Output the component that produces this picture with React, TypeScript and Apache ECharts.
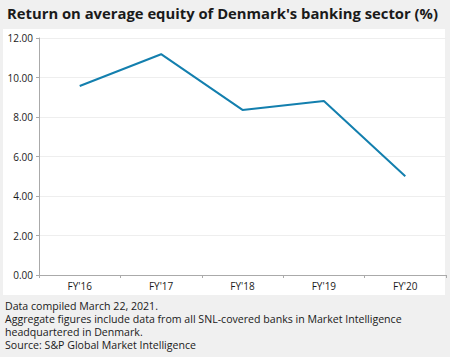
import React, { useEffect, useRef } from "react";
import * as echarts from "echarts";

const categories = ["FY'16", "FY'17", "FY'18", "FY'19", "FY'20"];
const roeValues = [9.57, 11.18, 8.36, 8.81, 5.0];
const yTicks = { min: 0, max: 12, interval: 2 };
const titleText = "Return on average equity of Denmark's banking sector (%)";
const footnotes = [
  "Data compiled March 22, 2021.",
  "Aggregate figures include data from all SNL-covered banks in Market Intelligence",
  "headquartered in Denmark.",
  "Source: S&P Global Market Intelligence",
];

const FONT = "'Open Sans', 'Noto Sans', sans-serif";

export default function App() {
  const ref = useRef<HTMLDivElement>(null);
  useEffect(() => {
    if (!ref.current) return;
    const chart = echarts.init(ref.current, null, { renderer: "svg" });
    chart.setOption({
      animation: false,
      backgroundColor: "#f0f0f0",
      textStyle: { fontFamily: FONT },
      graphic: [
        {
          type: "rect",
          z: -10,
          shape: { x: 3, y: 29, width: 442, height: 266 },
          style: { fill: "#ffffff" },
          silent: true,
        },
        {
          type: "text",
          left: 7,
          top: 5,
          style: {
            text: titleText,
            fontSize: 14.8,
            fontWeight: "bold",
            fontFamily: FONT,
            fill: "#1a1a1a",
          },
        },
        {
          type: "text",
          left: 5,
          top: 299,
          style: {
            text: footnotes.join("\n"),
            fontSize: 10.6,
            lineHeight: 13,
            fontFamily: FONT,
            fill: "#1a1a1a",
          },
        },
      ],
      grid: { left: 39, right: 4, top: 38, bottom: 82, containLabel: false },
      xAxis: {
        type: "category",
        data: categories,
        boundaryGap: true,
        axisLine: { lineStyle: { color: "#aaaaaa", width: 1 } },
        axisTick: { show: true, length: 3, lineStyle: { color: "#aaaaaa" } },
        axisLabel: { color: "#1a1a1a", fontSize: 10, margin: 6, fontFamily: FONT },
      },
      yAxis: {
        type: "value",
        min: yTicks.min,
        max: yTicks.max,
        interval: yTicks.interval,
        axisLine: { show: true, lineStyle: { color: "#aaaaaa", width: 1 } },
        axisTick: { show: true, length: 3, lineStyle: { color: "#aaaaaa" } },
        splitLine: { show: true, lineStyle: { color: "#eeeeee", width: 1 } },
        axisLabel: {
          color: "#1a1a1a",
          fontSize: 10,
          margin: 6,
          fontFamily: FONT,
          formatter: (v: number) => v.toFixed(2),
        },
      },
      series: [
        {
          type: "line",
          data: roeValues,
          symbol: "none",
          lineStyle: { color: "#137fae", width: 2 },
          itemStyle: { color: "#137fae" },
        },
      ],
    });
    return () => chart.dispose();
  }, []);
  return (
    <div
      ref={ref}
      style={{ position: "fixed", left: 0, top: 0, width: 450, height: 357 }}
    />
  );
}
